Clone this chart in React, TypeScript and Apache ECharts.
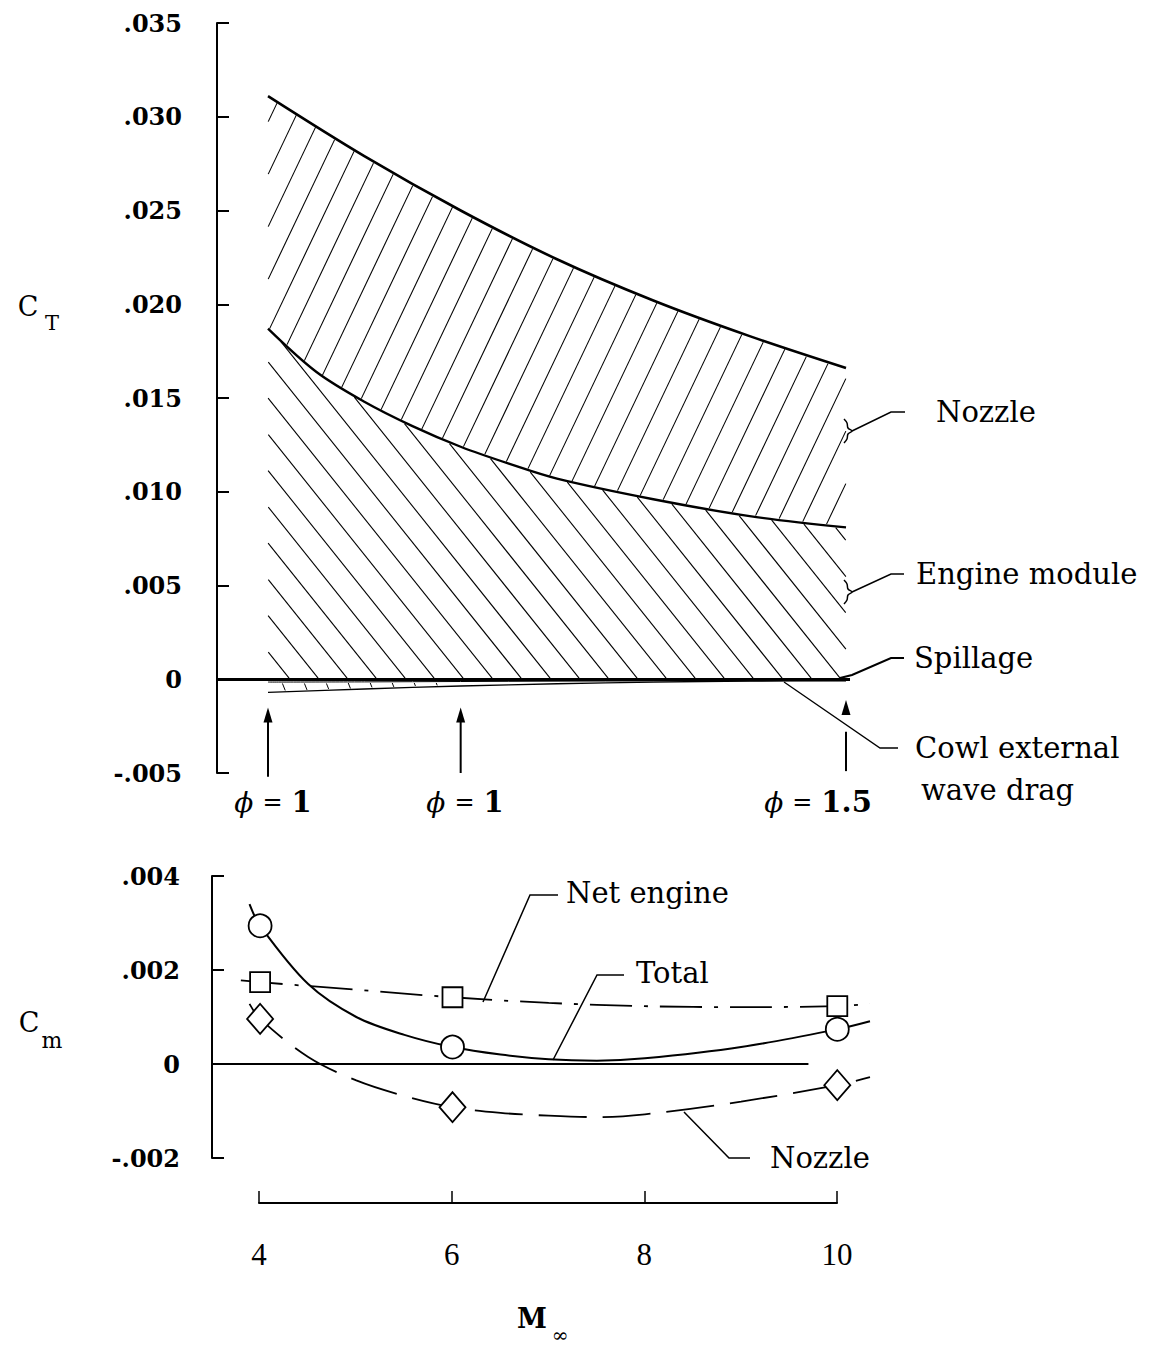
import React, { useEffect, useRef } from "react";
import * as echarts from "echarts";

// ---------- Top panel (C_T) data ----------
const upperM = [4, 5, 6, 7, 8, 9, 10];
const upperCT = [0.0311, 0.0279, 0.025, 0.0224, 0.0202, 0.0183, 0.0166];
const lowerM = [4, 4.5, 5, 5.5, 6, 6.5, 7, 8, 9, 10];
const lowerCT = [0.0187, 0.0164, 0.0148, 0.0135, 0.0124, 0.0115, 0.0107, 0.0096, 0.0087, 0.0081];
const wedgeM = [4, 5, 6, 7, 8, 9, 10];
const spillCT = [-0.00015, -0.00014, -0.00012, -0.0001, -0.00009, -0.00008, -0.00007];
const cowlCT = [-0.0007, -0.00052, -0.00036, -0.00024, -0.00015, -0.0001, -0.00008];

const arrowM = [4, 6, 10];
const arrowTail = [-0.0052, -0.005, -0.0049];
const arrowLineTop = [-0.0022, -0.0022, -0.0028];
const arrowTip = [-0.0015, -0.0015, -0.0011];
const phiValues = ["1", "1", "1.5"];

const ctMin = -0.005;
const ctMax = 0.035;
const ctStep = 0.005;

// ---------- Bottom panel (C_m) data ----------
const netM = [3.8, 4, 5, 6, 7, 8, 9, 10, 10.34];
const netCm = [0.00178, 0.00174, 0.00158, 0.00142, 0.0013, 0.00123, 0.00121, 0.00123, 0.00128];
const totalM = [3.89, 4, 4.5, 5, 5.5, 6, 6.5, 7, 7.5, 8, 9, 10, 10.34];
const totalCm = [0.0034, 0.00294, 0.0017, 0.001, 0.00062, 0.00036, 0.0002, 0.0001, 0.00007, 0.00012, 0.00036, 0.00074, 0.00091];
const nozzleM = [3.89, 4, 4.5, 5, 5.5, 6, 6.5, 7, 7.5, 8, 9, 10, 10.34];
const nozzleCm = [0.00128, 0.00096, 0.00015, -0.00035, -0.00068, -0.00092, -0.00104, -0.0011, -0.00113, -0.00107, -0.0008, -0.00045, -0.00028];

const markerM = [4, 6, 10];
const netMarkers = [0.00174, 0.00142, 0.00123];
const totalMarkers = [0.00294, 0.00036, 0.00074];
const nozzleMarkers = [0.00096, -0.00092, -0.00045];
const zeroLineM = [3.5, 9.7];

const cmMin = -0.002;
const cmMax = 0.004;
const cmStep = 0.002;

// Mach axis
const machMin = 4;
const machMax = 10;
const machStep = 2;

const SERIF = "DejaVu Serif";

const zip = (xs: number[], ys: number[]) => xs.map((x, i) => [x, ys[i]]);

function spline(xs: number[], ys: number[], x: number): number {
  const n = xs.length;
  if (x <= xs[0]) return ys[0];
  if (x >= xs[n - 1]) return ys[n - 1];
  let i = 0;
  while (x > xs[i + 1]) i++;
  const x0 = xs[i], x1 = xs[i + 1], y0 = ys[i], y1 = ys[i + 1];
  const h = x1 - x0;
  const m0 = i === 0 ? (y1 - y0) / h : (y1 - ys[i - 1]) / (x1 - xs[i - 1]);
  const m1 = i + 1 === n - 1 ? (y1 - y0) / h : (ys[i + 2] - y0) / (xs[i + 2] - x0);
  const t = (x - x0) / h;
  const t2 = t * t, t3 = t2 * t;
  return (2 * t3 - 3 * t2 + 1) * y0 + (t3 - 2 * t2 + t) * h * m0 + (-2 * t3 + 3 * t2) * y1 + (t3 - t2) * h * m1;
}

const fmt = (v: number) => {
  if (Math.abs(v) < 1e-12) return "0";
  const s = Math.abs(v).toFixed(3).replace(/^0/, "");
  return v < 0 ? "-" + s : s;
};

type Region = {
  m0: number;
  m1: number;
  top: (m: number) => number;
  bottom: (m: number) => number;
  s: number;
  dir: number;
  h: number;
  lw: number;
};

const regions: Region[] = [
  {
    m0: 4, m1: 10,
    top: (m) => spline(upperM, upperCT, m),
    bottom: (m) => spline(lowerM, lowerCT, m),
    s: 2.1, dir: 1, h: 25, lw: 1.1,
  },
  {
    m0: 4, m1: 10,
    top: (m) => spline(lowerM, lowerCT, m),
    bottom: () => 0,
    s: 1.25, dir: -1, h: 29, lw: 1.1,
  },
  {
    m0: 4, m1: 8,
    top: (m) => spline(wedgeM, spillCT, m),
    bottom: (m) => spline(wedgeM, cowlCT, m),
    s: 2.5, dir: -1, h: 22, lw: 1,
  },
];

function hatchRender(_params: any, api: any) {
  const [x4, y0] = api.coord([4, 0]);
  const [x10] = api.coord([10, 0]);
  const yA = api.coord([4, 0.01])[1];
  const kY = (y0 - yA) / 0.01;
  const toPy = (v: number) => y0 - v * kY;
  const toPx = (m: number) => x4 + ((m - 4) / 6) * (x10 - x4);
  const toM = (px: number) => 4 + ((px - x4) / (x10 - x4)) * 6;
  const children: any[] = [];
  regions.forEach((r) => {
    const pxL = toPx(r.m0), pxR = toPx(r.m1);
    let yTop = Infinity, yBot = -Infinity;
    for (let m = r.m0; m <= r.m1 + 1e-9; m += 0.02) {
      yTop = Math.min(yTop, toPy(r.top(m)));
      yBot = Math.max(yBot, toPy(r.bottom(m)));
    }
    const span = (yBot - yTop) / r.s;
    const cStart = r.dir > 0 ? pxL - span : pxL;
    const cEnd = r.dir > 0 ? pxR : pxR + span;
    for (let c = Math.ceil(cStart / r.h) * r.h; c <= cEnd; c += r.h) {
      let cur: number[] | null = null;
      const push = () => {
        if (cur && Math.hypot(cur[2] - cur[0], cur[3] - cur[1]) > 2.5) {
          children.push({
            type: "line",
            shape: { x1: cur[0], y1: cur[1], x2: cur[2], y2: cur[3] },
            style: { stroke: "#000", lineWidth: r.lw },
          });
        }
        cur = null;
      };
      for (let py = yTop; py <= yBot; py += 0.5) {
        const px = c + (r.dir * (yBot - py)) / r.s;
        let ok = px >= pxL && px <= pxR;
        if (ok) {
          const m = toM(px);
          ok = py >= toPy(r.top(m)) + 1 && py <= toPy(r.bottom(m)) - 1;
        }
        if (ok) {
          if (!cur) cur = [px, py, px, py];
          else { cur[2] = px; cur[3] = py; }
        } else if (cur) push();
      }
      push();
    }
  });
  return { type: "group", children };
}

function arrowRender(_params: any, api: any) {
  const m = api.value(0);
  const [x, yTail] = api.coord([m, api.value(1)]);
  const yLineTop = api.coord([m, api.value(2)])[1];
  const yTip = api.coord([m, api.value(3)])[1];
  const headLen = 15, headW = 4.5;
  return {
    type: "group",
    children: [
      { type: "line", shape: { x1: x, y1: yTail, x2: x, y2: yLineTop }, style: { stroke: "#000", lineWidth: 2 } },
      {
        type: "polygon",
        shape: { points: [[x, yTip], [x - headW, yTip + headLen], [x + headW, yTip + headLen]] },
        style: { fill: "#000" },
      },
    ],
  };
}

const txt = (text: string, x: number, y: number, size: number, extra: any = {}) => ({
  type: "text",
  silent: true,
  style: {
    text, x, y,
    fontSize: size,
    fontFamily: extra.fontFamily || SERIF,
    fill: "#000",
    align: extra.align || "left",
    textAlign: extra.align || "left",
    verticalAlign: "middle",
    textVerticalAlign: "middle",
    fontWeight: extra.fontWeight || "normal",
    fontStyle: extra.fontStyle || "normal",
    rich: extra.rich,
  },
});

const poly = (points: number[][], lw = 1.5, smooth = 0) => ({
  type: "polyline",
  silent: true,
  shape: { points, smooth },
  style: { stroke: "#000", lineWidth: lw, fill: "none" },
});

const brace = (x: number, yc: number) =>
  poly([[x - 3, yc - 12], [x, yc - 8], [x + 1, yc - 3], [x + 5, yc], [x + 1, yc + 3], [x, yc + 8], [x - 3, yc + 12]], 1.5, 0.4);

function buildOption() {
  const phiRich = {
    p: { fontFamily: SERIF, fontStyle: "italic", fontSize: 28 },
    e: { fontFamily: SERIF, fontSize: 24, padding: [0, 9, 0, 9] },
    n: { fontFamily: SERIF, fontWeight: "bold", fontSize: 29 },
  };
  const phiX = [273, 465, 818];
  const graphic: any[] = [
    // axis titles
    txt("C", 28, 306, 27, { align: "center" }),
    txt("T", 52, 323, 21, { align: "center" }),
    txt("C", 29, 1022, 27, { align: "center" }),
    txt("m", 52, 1040, 22, { align: "center" }),
    txt("M", 532, 1318, 27, { align: "center", fontWeight: "bold" }),
    txt("∞", 560, 1335, 20, { align: "center" }),
    // phi labels
    ...phiValues.map((v, i) =>
      txt(`{p|ϕ}{e|=}{n|${v}}`, phiX[i], 802, 28, { align: "center", rich: phiRich })
    ),
    // top annotations
    brace(847, 431),
    poly([[852, 431], [891, 412], [905, 412]]),
    txt("Nozzle", 936, 412, 29),
    brace(847, 592),
    poly([[852, 592], [891, 574], [904, 574]]),
    txt("Engine module", 916, 574, 29),
    poly([[840, 678], [852, 675], [891, 658], [904, 658]], 2),
    txt("Spillage", 914, 658, 29),
    poly([[784, 682], [880, 748], [898, 748]], 1.3),
    txt("Cowl external", 915, 748, 29),
    txt("wave drag", 921, 790, 29),
    // bottom annotations
    poly([[483, 1002], [530, 895], [558, 895]]),
    txt("Net engine", 566, 893, 29),
    poly([[553, 1060], [597, 975], [624, 975]]),
    txt("Total", 636, 973, 29),
    poly([[684, 1112], [729, 1158], [750, 1158]]),
    txt("Nozzle", 770, 1158, 29),
  ];

  const yAxisCommon = (gridIndex: number, min: number, max: number, interval: number, margin: number) => ({
    type: "value",
    gridIndex,
    min,
    max,
    interval,
    axisLine: { show: true, onZero: false, lineStyle: { color: "#000", width: 2 } },
    axisTick: { show: true, inside: true, length: 12, lineStyle: { color: "#000", width: 2 } },
    axisLabel: { formatter: fmt, fontFamily: SERIF, fontSize: 24, fontWeight: "bold", color: "#000", margin },
    splitLine: { show: false },
  });

  const lineSeries = (name: string, xs: number[], ys: number[], xi: number, lw: number, type: any = "solid", smooth = 0.33) => ({
    name,
    type: "line",
    xAxisIndex: xi,
    yAxisIndex: xi,
    data: zip(xs, ys),
    smooth,
    showSymbol: false,
    symbol: "none",
    silent: true,
    clip: false,
    z: 3,
    lineStyle: { color: "#000", width: lw, type },
  });

  const markerSeries = (name: string, ys: number[], symbol: string, size: any) => ({
    name,
    type: "scatter",
    xAxisIndex: 1,
    yAxisIndex: 1,
    data: zip(markerM, ys),
    symbol,
    symbolSize: size,
    silent: true,
    z: 5,
    itemStyle: { color: "#fff", borderColor: "#000", borderWidth: 1.8, opacity: 1 },
  });

  return {
    animation: false,
    backgroundColor: "#fff",
    grid: [
      { left: 217, top: 23, width: 633, height: 750 },
      { left: 212, top: 876, width: 658, height: 282 },
      { left: 259, top: 1191, width: 578, height: 12 },
    ],
    xAxis: [
      { type: "value", gridIndex: 0, min: 3.4706, max: 10.0415, show: false },
      { type: "value", gridIndex: 1, min: 3.5, max: 10.34, show: false },
      {
        type: "value",
        gridIndex: 2,
        min: machMin,
        max: machMax,
        interval: machStep,
        position: "bottom",
        axisLine: { show: true, onZero: false, lineStyle: { color: "#000", width: 2 } },
        axisTick: { show: true, inside: true, length: 12, lineStyle: { color: "#000", width: 1.5 } },
        axisLabel: { fontFamily: "Liberation Serif", fontSize: 31, color: "#000", margin: 36 },
        splitLine: { show: false },
      },
    ],
    yAxis: [
      yAxisCommon(0, ctMin, ctMax, ctStep, 35),
      yAxisCommon(1, cmMin, cmMax, cmStep, 32),
      { type: "value", gridIndex: 2, min: 0, max: 1, show: false },
    ],
    graphic,
    series: [
      {
        name: "hatch",
        type: "custom",
        coordinateSystem: "cartesian2d",
        xAxisIndex: 0,
        yAxisIndex: 0,
        silent: true,
        z: 1,
        data: [[4, 0]],
        encode: { x: 0, y: 1 },
        renderItem: hatchRender,
      },
      {
        ...lineSeries("Nozzle (upper)", upperM, upperCT, 0, 2.6),
        markLine: {
          silent: true,
          symbol: "none",
          label: { show: false },
          lineStyle: { color: "#000", width: 3, type: "solid" },
          data: [{ yAxis: 0 }],
        },
      },
      lineSeries("Engine module (upper)", lowerM, lowerCT, 0, 2.4),
      lineSeries("Spillage", wedgeM, spillCT, 0, 1),
      lineSeries("Cowl external wave drag", wedgeM, cowlCT, 0, 1.3),
      {
        name: "phi",
        type: "custom",
        coordinateSystem: "cartesian2d",
        xAxisIndex: 0,
        yAxisIndex: 0,
        silent: true,
        z: 4,
        clip: false,
        data: arrowM.map((m, i) => [m, arrowTail[i], arrowLineTop[i], arrowTip[i]]),
        encode: { x: 0, y: 1 },
        renderItem: arrowRender,
      },
      lineSeries("Zero", zeroLineM, [0, 0], 1, 2.2, "solid", 0),
      lineSeries("Net engine", netM, netCm, 1, 1.8, [42, 12, 4, 12]),
      lineSeries("Total", totalM, totalCm, 1, 2),
      lineSeries("Nozzle", nozzleM, nozzleCm, 1, 1.8, [48, 16]),
      markerSeries("Net engine pts", netMarkers, "rect", 20),
      markerSeries("Total pts", totalMarkers, "circle", 23),
      markerSeries("Nozzle pts", nozzleMarkers, "diamond", [26, 30]),
    ],
  };
}

export default function App() {
  const ref = useRef<HTMLDivElement>(null);
  useEffect(() => {
    document.body.style.margin = "0";
    const chart = echarts.init(ref.current as HTMLDivElement, undefined, { renderer: "svg" });
    chart.setOption(buildOption() as any);
    return () => chart.dispose();
  }, []);
  return <div ref={ref} style={{ width: 1167, height: 1350, background: "#fff" }} />;
}
